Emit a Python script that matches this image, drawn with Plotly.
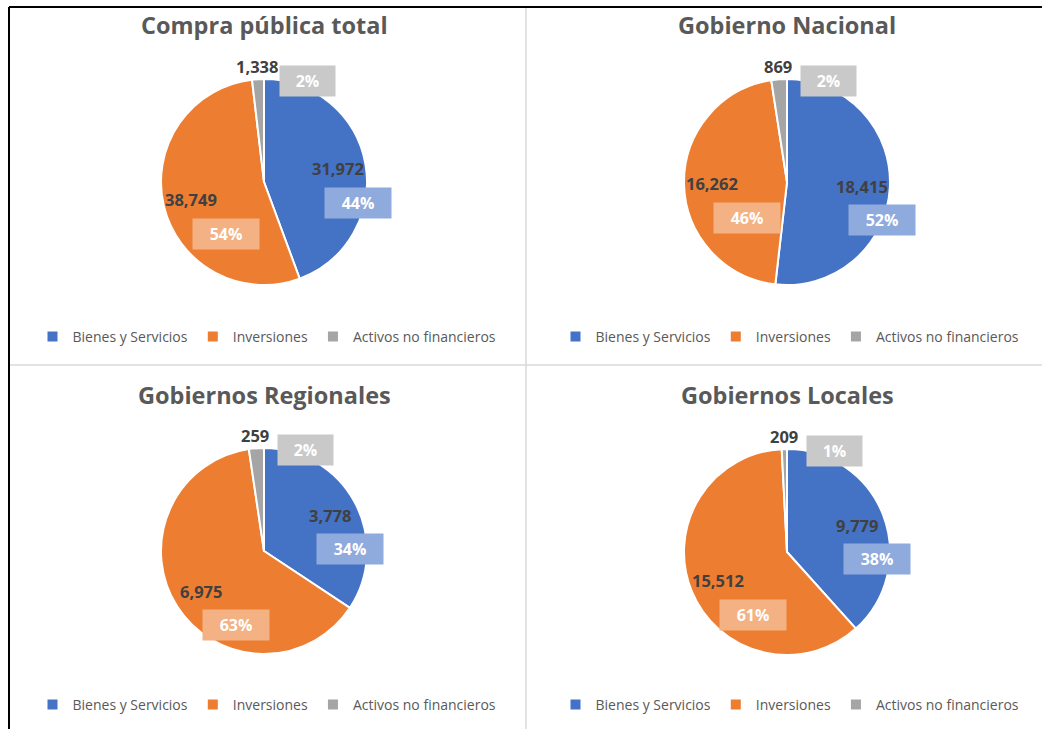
import math
import plotly.graph_objects as go

# ---- data ----
titles = ["Compra pública total", "Gobierno Nacional", "Gobiernos Regionales", "Gobiernos Locales"]
categories = ["Bienes y Servicios", "Inversiones", "Activos no financieros"]
total_vals = [31972, 38749, 1338]
nacional_vals = [18415, 16262, 869]
regional_vals = [3778, 6975, 259]
local_vals = [9779, 15512, 209]
series = [total_vals, nacional_vals, regional_vals, local_vals]

colors = ["#4472C4", "#ED7D31", "#A5A5A5"]
box_colors = ["#8FAADC", "#F4B183", "#C9C9C9"]

W, H = 1042, 729
def fx(x):
    return x / W
def fy(y):
    return 1 - y / H

centers = [(264, 182), (787, 182), (264, 551), (787, 552)]
R = 103
title_y = [25, 25, 395, 395]
legend_y = [337, 337, 705, 705]
legend_x = [267, 790, 267, 790]
legend_names = ["legend", "legend2", "legend3", "legend4"]

FONT = "Open Sans"
fig = go.Figure()
annotations = []

for i, vals in enumerate(series):
    cx, cy = centers[i]
    # zero-width suffix keeps each pie's legend entries separate (visible text unchanged)
    labels_i = [c + "\u200b" * i for c in categories]
    fig.add_trace(go.Pie(
        labels=labels_i, values=vals, sort=False, direction="clockwise", rotation=0,
        marker=dict(colors=colors, line=dict(color="white", width=2)),
        textinfo="none", hoverinfo="label+value+percent",
        domain=dict(x=[fx(cx - R), fx(cx + R)], y=[fy(cy + R), fy(cy - R)]),
        legend=legend_names[i], showlegend=True,
    ))
    total = sum(vals)
    cum = 0
    for j, v in enumerate(vals):
        frac = v / total
        mid = (cum + frac / 2) * 2 * math.pi
        cum += frac
        if frac < 0.05:
            rr = 1.12 * R
            off = (50, 14)
        else:
            rr = 0.73 * R
            off = (20, 34) if math.sin(mid) > 0 else (35, 34)
        vx = cx + rr * math.sin(mid)
        vy = cy - rr * math.cos(mid)
        annotations.append(dict(
            x=fx(vx), y=fy(vy), xref="paper", yref="paper", showarrow=False,
            text=f"<b>{v:,}</b>", font=dict(family=FONT, size=16.5, color="#404040"),
            xanchor="center", yanchor="middle"))
        pct = f"{round(frac * 100)}%"
        annotations.append(dict(
            x=fx(vx + off[0]), y=fy(vy + off[1]), xref="paper", yref="paper", showarrow=False,
            text=f"<b>{pct}</b>", font=dict(family=FONT, size=16, color="white"),
            bgcolor=box_colors[j], width=11 * (len(pct) + 3) - 2, height=28, borderpad=1,
            xanchor="center", yanchor="middle"))
    annotations.append(dict(
        x=fx(cx), y=fy(title_y[i]), xref="paper", yref="paper", showarrow=False,
        text=f"<b>{titles[i]}</b>", font=dict(family=FONT, size=23.5, color="#595959"),
        xanchor="center", yanchor="middle"))

legend_common = dict(orientation="h", xanchor="center", yanchor="middle",
                     font=dict(family=FONT, size=14, color="#595959"),
                     bgcolor="rgba(0,0,0,0)", itemclick=False, itemdoubleclick=False)
layout_legends = {}
for i, name in enumerate(legend_names):
    layout_legends[name] = dict(x=fx(legend_x[i]), y=fy(legend_y[i]), **legend_common)

shapes = [
    dict(type="line", xref="paper", yref="paper", x0=fx(9), x1=1, y0=fy(7), y1=fy(7),
         line=dict(color="black", width=2)),
    dict(type="line", xref="paper", yref="paper", x0=fx(9), x1=fx(9), y0=fy(7), y1=0,
         line=dict(color="black", width=2)),
    dict(type="line", xref="paper", yref="paper", x0=fx(526), x1=fx(526), y0=fy(8), y1=0,
         line=dict(color="#D9D9D9", width=1.5)),
    dict(type="line", xref="paper", yref="paper", x0=fx(10), x1=1, y0=fy(365), y1=fy(365),
         line=dict(color="#D9D9D9", width=1.5)),
]

fig.update_layout(
    width=W, height=H, margin=dict(l=0, r=0, t=0, b=0),
    paper_bgcolor="white", plot_bgcolor="white",
    annotations=annotations, shapes=shapes,
    **layout_legends,
)

fig.write_html("out.html", config={"displayModeBar": False},
               post_script="document.body.style.margin='0';document.body.style.overflow='hidden';")
